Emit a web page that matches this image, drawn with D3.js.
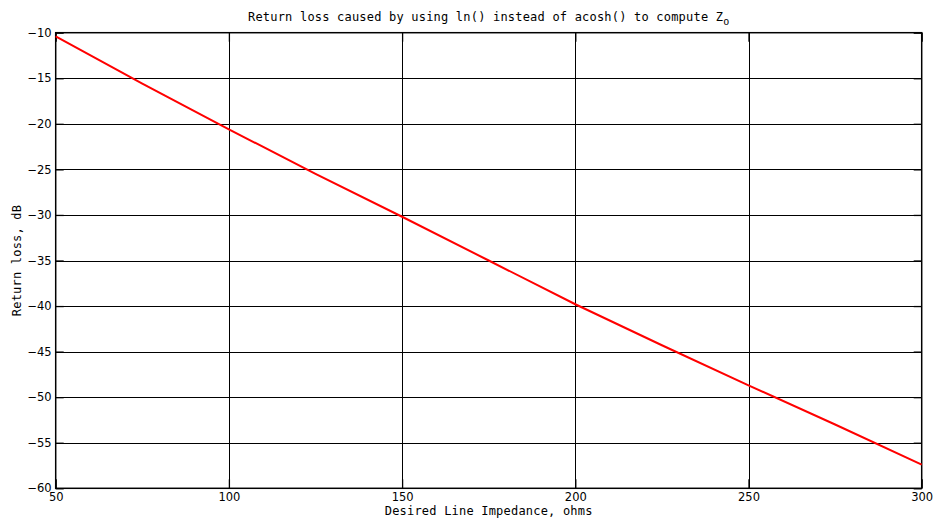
<!DOCTYPE html>
<html>
<head>
<meta charset="utf-8">
<script src="https://cdn.jsdelivr.net/npm/d3@7"></script>
<style>
  html, body { margin: 0; padding: 0; background: #fff; }
  svg { display: block; }
</style>
</head>
<body>
<svg id="chart" width="934" height="519"></svg>
<script>
// Data
const impedance = [50, 75, 100, 125, 150, 175, 200, 225, 250, 275, 300];
const returnLoss = [-10.4, -15.6, -20.6, -25.5, -30.2, -35.0, -39.8, -44.3, -48.7, -53.0, -57.4];
const xTicks = [50, 100, 150, 200, 250, 300];
const yTicks = [-10, -15, -20, -25, -30, -35, -40, -45, -50, -55, -60];
const titleText = "Return loss caused by using ln() instead of acosh() to compute Z";
const titleSub = "o";
const xLabel = "Desired Line Impedance, ohms";
const yLabel = "Return loss, dB";

(function () {
const svg = d3.select("#chart");
const pLeft = 55.7, pRight = 921.7, pTop = 32.7, pBottom = 488.3;

const x = d3.scaleLinear().domain([50, 300]).range([pLeft, pRight]);
const y = d3.scaleLinear().domain([-60, -10]).range([pBottom, pTop]);

const mono = "'DejaVu Sans Mono', monospace";
const sans = "'DejaVu Sans', sans-serif";

// gridlines
const grid = svg.append("g").attr("stroke", "#000").attr("stroke-width", 1);
grid.selectAll("line.v").data(xTicks.slice(1, -1)).join("line")
  .attr("x1", d => Math.round(x(d)) + 0.5).attr("x2", d => Math.round(x(d)) + 0.5)
  .attr("y1", pTop).attr("y2", pBottom);
grid.selectAll("line.h").data(yTicks.slice(1, -1)).join("line")
  .attr("y1", d => Math.round(y(d)) + 0.5).attr("y2", d => Math.round(y(d)) + 0.5)
  .attr("x1", pLeft).attr("x2", pRight);

// axes with inward ticks
const axL = svg.append("g").attr("transform", `translate(${pLeft},0)`)
  .call(d3.axisLeft(y).tickValues(yTicks).tickSize(-8).tickPadding(4).tickFormat(d3.format("d")));
const axR = svg.append("g").attr("transform", `translate(${pRight},0)`)
  .call(d3.axisRight(y).tickValues(yTicks).tickSize(-8).tickFormat(""));
const axB = svg.append("g").attr("transform", `translate(0,${pBottom})`)
  .call(d3.axisBottom(x).tickValues(xTicks).tickSize(-9).tickPadding(4.5));
const axT = svg.append("g").attr("transform", `translate(0,${pTop})`)
  .call(d3.axisTop(x).tickValues(xTicks).tickSize(-9).tickFormat(""));

[axL, axR, axB, axT].forEach(a => {
  a.select(".domain").remove();
  a.selectAll(".tick line").attr("stroke", "#000").attr("stroke-width", 1.3);
  a.selectAll("text").attr("font-family", sans).attr("font-size", "11.5px").attr("fill", "#000");
});
axL.selectAll("text").text(d => d < 0 ? "\u2212" + Math.abs(d) : d);

// frame
svg.append("rect").attr("x", pLeft).attr("y", pTop)
  .attr("width", pRight - pLeft).attr("height", pBottom - pTop)
  .attr("fill", "none").attr("stroke", "#000").attr("stroke-width", 1.5);

// data line
const line = d3.line().x((d, i) => x(impedance[i])).y(d => y(d));
svg.append("path").datum(returnLoss)
  .attr("d", line).attr("fill", "none").attr("stroke", "#ff0000").attr("stroke-width", 2);

// title
const t = svg.append("text").attr("x", (pLeft + pRight) / 2).attr("y", 21)
  .attr("text-anchor", "middle").attr("font-family", mono).attr("font-size", "12px")
  .attr("letter-spacing", "0.2px").attr("fill", "#000");
t.append("tspan").text(titleText);
t.append("tspan").attr("dy", 4).attr("font-size", "10px").text(titleSub);

// x label
svg.append("text").attr("x", (pLeft + pRight) / 2).attr("y", 515)
  .attr("text-anchor", "middle").attr("font-family", mono).attr("font-size", "12px")
  .attr("letter-spacing", "0.2px").attr("fill", "#000").text(xLabel);

// y label
svg.append("text").attr("transform", `translate(21,${(pTop + pBottom) / 2}) rotate(-90)`)
  .attr("text-anchor", "middle").attr("font-family", mono).attr("font-size", "12px")
  .attr("letter-spacing", "0.2px").attr("fill", "#000").text(yLabel);
})();
</script>
</body>
</html>
